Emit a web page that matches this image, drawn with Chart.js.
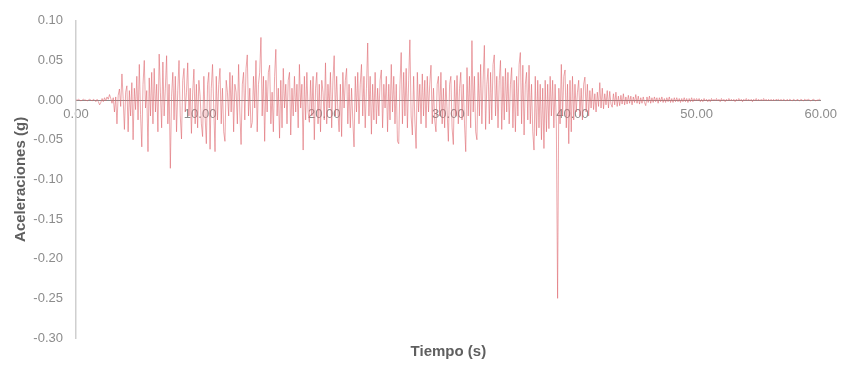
<!DOCTYPE html>
<html>
<head>
<meta charset="utf-8">
<script src="https://cdn.jsdelivr.net/npm/chart.js@4/dist/chart.umd.min.js"></script>
<style>
  html, body { margin: 0; padding: 0; background: #ffffff; }
  #wrap { width: 844px; height: 367px; }
</style>
</head>
<body>
<div id="wrap"><canvas id="acc"></canvas></div>
<script>
// Sampling interval of the record (s)
const timeStep = 0.1;

// Ground acceleration (g), one row per second of record
const accel = [
  0, 0, 0.001, 0, -0.001, 0, 0.001, 0, 0, -0.001,
  0, 0.001, 0, -0.001, 0.001, 0, -0.002, 0.001, -0.002, -0.006,
  -0.003, 0.002, -0.002, 0.003, -0.001, 0.004, 0.001, 0.007, 0.002, -0.004,
  0.003, -0.015, 0.004, -0.03, 0.006, 0.014, -0.008, 0.033, 0.002, -0.037,
  0.01, 0.018, -0.04, 0.012, -0.02, 0.022, -0.05, 0.015, -0.012, 0.03,
  -0.025, 0.045, -0.018, -0.059, 0.02, 0.05, -0.01, 0.012, -0.065, 0.028,
  -0.02, 0.035, -0.03, 0.04, -0.015, 0.02, -0.04, 0.058, 0.01, -0.035,
  0.048, -0.02, 0.015, 0.056, -0.03, 0.02, -0.086, 0.005, 0.035, -0.025,
  0.03, -0.04, 0.012, 0.05, -0.02, -0.049, 0.025, 0.04, -0.015, 0.01,
  0.047, -0.02, 0.015, -0.042, 0.01, 0.039, -0.03, 0.02, -0.035, 0.025,
  0.005, -0.03, -0.046, 0.03, -0.02, -0.055, 0.02, 0.035, -0.062, 0.015,
  0.045, -0.01, -0.065, 0.03, -0.025, 0.02, 0.04, -0.03, 0.015, -0.04,
  -0.052, 0.025, 0.01, -0.02, 0.035, -0.015, 0.031, -0.04, 0.02, 0.01,
  -0.03, 0.045, -0.015, -0.056, 0.02, 0.035, -0.025, 0.04, 0.057, -0.02,
  0.015, -0.035, -0.028, 0.03, -0.01, 0.05, -0.04, 0.02, 0.035, 0.079,
  -0.02, 0.03, -0.052, 0.025, -0.015, 0.035, 0.044, -0.03, 0.01, -0.04,
  0.03, 0.064, -0.02, 0.015, -0.048, 0.025, -0.035, 0.04, -0.01, 0.02,
  -0.03, 0.025, 0.035, -0.044, 0.015, -0.02, 0.03, -0.015, 0.02, -0.035,
  0.045, -0.01, 0.02, -0.063, 0.03, -0.025, 0.035, -0.015, -0.028, 0.025,
  -0.02, 0.03, -0.05, 0.015, 0.035, -0.03, 0.02, -0.04, 0.025, 0.01,
  -0.025, 0.047, -0.03, 0.02, -0.01, 0.035, -0.035, 0.025, 0.056, -0.02,
  0.03, -0.015, -0.04, 0.02, -0.046, 0.035, -0.01, 0.025, 0.04, -0.03,
  0.02, -0.035, 0.015, -0.025, -0.059, 0.03, -0.015, 0.035, -0.03, 0.02,
  0.045, -0.02, 0.03, -0.035, 0.015, 0.072, -0.02, 0.03, -0.043, 0.02,
  -0.025, 0.035, -0.03, 0.015, -0.02, 0.025, 0.038, -0.035, 0.02, -0.01,
  0.03, -0.04, 0.02, -0.025, 0.045, -0.015, 0.03, -0.03, 0.02, -0.052,
  -0.055, 0.02, 0.06, -0.03, 0.035, -0.02, 0.04, -0.035, 0.025, 0.076,
  -0.02, -0.044, 0.03, -0.025, -0.061, 0.035, -0.015, 0.02, -0.03, 0.033,
  -0.02, 0.025, -0.035, 0.03, -0.015, 0.02, 0.044, -0.03, 0.015, -0.025,
  -0.04, 0.02, 0.03, -0.02, 0.035, -0.03, 0.015, -0.035, 0.025, -0.015,
  -0.052, 0.02, 0.03, -0.035, -0.056, 0.025, -0.02, 0.031, -0.03, 0.015,
  0.035, -0.025, 0.02, -0.03, -0.065, 0.041, -0.02, 0.03, -0.035, 0.075,
  -0.015, 0.03, -0.04, -0.05, 0.035, -0.02, 0.045, -0.03, 0.025, 0.069,
  -0.037, 0.02, 0.04, -0.03, 0.035, -0.025, 0.045, 0.057, -0.02, 0.03,
  -0.035, 0.025, 0.05, -0.037, 0.03, -0.025, 0.04, -0.015, 0.035, -0.03,
  0.02, 0.041, -0.035, 0.025, -0.04, 0.03, -0.02, 0.045, 0.06, -0.03,
  0.044, -0.044, 0.02, 0.035, -0.025, 0.044, -0.03, 0.02, -0.04, -0.063,
  0.03, -0.045, 0.025, -0.035, 0.02, -0.05, 0.015, -0.061, 0.025, -0.04,
  0.02, -0.036, 0.03, -0.02, 0.025, -0.035, 0.02, -0.03, -0.25, 0.015,
  -0.03, 0.045, -0.02, 0.03, 0.038, -0.035, 0.02, -0.055, 0.025, -0.04,
  0.03, -0.025, 0.02, -0.015, 0.01, 0.025, -0.02, 0.015, -0.025, 0.02,
  0.029, -0.015, 0.02, -0.02, 0.012, -0.01, 0.015, -0.012, 0.008, -0.015,
  0.01, -0.008, 0.022, -0.01, 0.015, -0.011, 0.008, -0.006, 0.012, -0.01,
  0.011, -0.005, -0.009, 0.008, -0.006, 0.01, -0.008, 0.005, -0.007, 0.006,
  -0.005, 0.008, -0.006, 0.004, -0.005, 0.006, -0.004, 0.005, -0.006, 0.004,
  -0.003, 0.007, -0.004, 0.005, -0.005, 0.003, -0.004, 0.004, -0.003, -0.007,
  0.004, -0.003, 0.005, -0.004, 0.003, -0.003, 0.004, -0.002, 0.003, -0.004,
  0.003, -0.002, 0.004, -0.003, 0.002, -0.003, 0.003, -0.002, 0.004, -0.003,
  0.002, -0.003, 0.003, -0.002, 0.003, -0.002, 0.002, -0.003, 0.002, -0.002,
  0.003, -0.002, 0.002, -0.003, 0.002, -0.002, 0.003, -0.002, 0.002, -0.001,
  0.002, -0.001, 0.002, -0.002, 0.001, -0.002, 0.002, -0.001, 0.001, -0.002,
  0.001, -0.002, 0.002, -0.001, 0.001, -0.001, 0.002, -0.001, 0.001, -0.002,
  0.002, -0.001, 0.001, -0.002, 0.001, -0.001, 0.002, -0.001, 0.001, -0.001,
  0.001, -0.002, 0.001, -0.001, 0.002, -0.001, 0.001, -0.002, 0.001, -0.001,
  0.002, -0.001, 0.001, -0.001, 0.001, -0.002, 0.001, -0.001, 0.002, -0.001,
  0.001, -0.001, 0.001, -0.001, 0.002, -0.001, 0.001, -0.001, 0.001, -0.001,
  0.001, -0.001, 0.001, -0.001, 0.001, 0, 0.001, -0.001, 0.001, -0.001,
  0.001, 0, -0.001, 0.001, -0.001, 0.001, 0, -0.001, 0.001, 0,
  -0.001, 0.001, 0, -0.001, 0.001, 0, -0.001, 0.001, 0, 0,
  0.001, 0, -0.001, 0, 0.001, 0, -0.001, 0, 0, 0.001,
  0
];

// Axis ranges and tick steps
const timeRange = [0, 60];
const timeTickStep = 10;
const accelRange = [-0.30, 0.10];
const accelTickStep = 0.05;

const xTitle = 'Tiempo (s)';
const yTitle = 'Aceleraciones (g)';

const points = accel.map((a, i) => ({ x: +(i * timeStep).toFixed(1), y: a }));

const font = '"Liberation Sans", Arial, Helvetica, sans-serif';
const tickColor = '#8c8c8c';
const titleColor = '#5f5f5f';

new Chart(document.getElementById('acc'), {
  type: 'line',
  data: {
    datasets: [{
      data: points,
      xAxisID: 'x',
      borderColor: 'rgba(222, 104, 110, 0.58)',
      borderWidth: 1,
      pointRadius: 0,
      tension: 0,
      fill: false
    }]
  },
  options: {
    responsive: true,
    maintainAspectRatio: false,
    animation: false,
    events: [],
    layout: { padding: { top: 18, right: 19, left: 0, bottom: 0 } },
    plugins: {
      legend: { display: false },
      tooltip: { enabled: false }
    },
    scales: {
      // time axis drawn along the zero line
      x: {
        type: 'linear',
        position: { y: 0 },
        min: timeRange[0],
        max: timeRange[1],
        z: 1,
        grid: { display: false, drawTicks: false },
        border: { display: true, color: '#8c8c8c', width: 1 },
        ticks: {
          stepSize: timeTickStep,
          autoSkip: false,
          maxRotation: 0,
          padding: 7,
          color: tickColor,
          font: { family: font, size: 13 },
          callback: v => Number(v).toFixed(2)
        }
      },
      // bottom axis carrying only the time title
      xTitleAxis: {
        type: 'linear',
        position: 'bottom',
        min: timeRange[0],
        max: timeRange[1],
        grid: { display: false, drawTicks: false },
        border: { display: false },
        ticks: { display: false },
        title: {
          display: true,
          text: xTitle,
          color: titleColor,
          font: { family: font, size: 15, weight: 'bold' },
          padding: { top: 5, bottom: 6 }
        }
      },
      y: {
        type: 'linear',
        min: accelRange[0],
        max: accelRange[1],
        grid: { display: false, drawTicks: false },
        border: { display: true, color: '#cfcfcf', width: 1.5 },
        afterFit: s => { s.width = 76; },
        title: {
          display: true,
          text: yTitle,
          color: titleColor,
          font: { family: font, size: 15, weight: 'bold' },
          padding: { top: 12, bottom: 0 }
        },
        ticks: {
          stepSize: accelTickStep,
          padding: 13,
          color: tickColor,
          font: { family: font, size: 13 },
          callback: v => Number(v).toFixed(2)
        }
      }
    }
  }
});
</script>
</body>
</html>
